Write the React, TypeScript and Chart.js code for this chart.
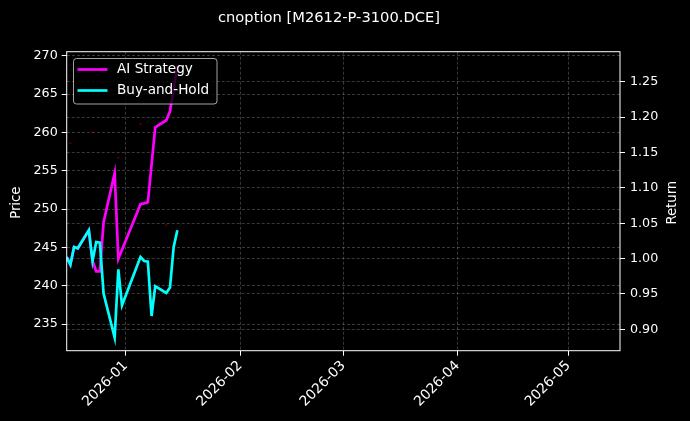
import React, { useEffect, useRef } from "react";
import { Chart, registerables } from "chart.js";

Chart.register(...registerables);

// ---- data ----
const chartTitle = "cnoption [M2612-P-3100.DCE]";
const dates = [
  "2025-12-16", "2025-12-17", "2025-12-18", "2025-12-19", "2025-12-22",
  "2025-12-23", "2025-12-24", "2025-12-25", "2025-12-26", "2025-12-29",
  "2025-12-30", "2025-12-31", "2026-01-05", "2026-01-06", "2026-01-07",
  "2026-01-08", "2026-01-09", "2026-01-12", "2026-01-13", "2026-01-14",
  "2026-01-15",
];
const aiStrategy = [
  1.002, 0.9915, 1.0164, 1.0146, 1.04, 0.9966, 0.982, 0.982, 1.0513, 1.1206,
  0.9997, 1.0124, 1.0768, 1.078, 1.0796, 1.1326, 1.1856, 1.1955, 1.2082, 1.24,
  1.273,
];
const buyAndHold = [
  1.002, 0.9915, 1.0164, 1.0146, 1.04, 0.9966, 1.0235, 1.0226, 0.9505, 0.8883,
  0.9849, 0.934, 1.0023, 0.9966, 0.9958, 0.9189, 0.9608, 0.9514, 0.959, 1.0164,
  1.04,
];
const priceDates = ["2025-12-17", "2025-12-23", "2025-12-30", "2026-01-05", "2026-01-12"];
const priceValues = [258.6, 260.0, 256.7, 261.1, 247.9];

const xStart = "2025-12-16";
const xEnd = "2026-05-15";
const xTickDates = ["2026-01-01", "2026-02-01", "2026-03-01", "2026-04-01", "2026-05-01"];
const xTickLabels = ["2026-01", "2026-02", "2026-03", "2026-04", "2026-05"];
const priceTicks = [235, 240, 245, 250, 255, 260, 265, 270];
const returnTicks = [0.9, 0.95, 1.0, 1.05, 1.1, 1.15, 1.2, 1.25];
const priceRange = [231.52, 270.52];
const returnRange = [0.8698, 1.2924];

const FONT = "'DejaVu Sans', sans-serif";
const ts = (s: string) => Date.parse(s + "T00:00:00Z");

const overlayPlugin = {
  id: "overlay",
  afterDatasetsDraw(chart: any) {
    const ctx = chart.ctx as CanvasRenderingContext2D;
    ctx.save();
    // legend box
    const x = 73.5, y = 58.5, w = 143.5, h = 45.5, r = 3;
    ctx.beginPath();
    ctx.moveTo(x + r, y);
    ctx.lineTo(x + w - r, y);
    ctx.arcTo(x + w, y, x + w, y + r, r);
    ctx.lineTo(x + w, y + h - r);
    ctx.arcTo(x + w, y + h, x + w - r, y + h, r);
    ctx.lineTo(x + r, y + h);
    ctx.arcTo(x, y + h, x, y + h - r, r);
    ctx.lineTo(x, y + r);
    ctx.arcTo(x, y, x + r, y, r);
    ctx.closePath();
    ctx.fillStyle = "rgba(0,0,0,0.8)";
    ctx.fill();
    ctx.strokeStyle = "rgba(204,204,204,0.8)";
    ctx.lineWidth = 1;
    ctx.stroke();
    const items = [
      { label: "AI Strategy", color: "#ff00ff", cy: 69.5 },
      { label: "Buy-and-Hold", color: "#00ffff", cy: 90.5 },
    ];
    ctx.font = `13.6px ${FONT}`;
    ctx.textBaseline = "middle";
    ctx.textAlign = "left";
    for (const it of items) {
      ctx.beginPath();
      ctx.moveTo(77.5, it.cy);
      ctx.lineTo(107.5, it.cy);
      ctx.strokeStyle = it.color;
      ctx.lineWidth = 2.7;
      ctx.stroke();
      ctx.fillStyle = "#ffffff";
      ctx.fillText(it.label, 117, it.cy);
    }
    ctx.restore();
  },
  afterDraw(chart: any) {
    const ctx = chart.ctx as CanvasRenderingContext2D;
    const a = chart.chartArea;
    ctx.save();
    // frame
    ctx.strokeStyle = "#ffffff";
    ctx.lineWidth = 1;
    ctx.strokeRect(a.left, a.top, a.right - a.left, a.bottom - a.top);
    // title
    ctx.fillStyle = "#ffffff";
    ctx.font = `14.7px ${FONT}`;
    ctx.textAlign = "center";
    ctx.textBaseline = "middle";
    ctx.fillText(chartTitle, 329, 18);
    // axis titles
    const midY = (a.top + a.bottom) / 2 + 1.5;
    ctx.font = `13.2px ${FONT}`;
    ctx.save();
    ctx.translate(17, midY);
    ctx.rotate(-Math.PI / 2);
    ctx.fillText("Price", 0, 0);
    ctx.restore();
    ctx.save();
    ctx.translate(673, midY);
    ctx.rotate(-Math.PI / 2);
    ctx.fillText("Return", 0, 0);
    ctx.restore();
    ctx.restore();
  },
};

const gridColor = "rgba(255,255,255,0.28)";

export default function App() {
  const canvasRef = useRef<HTMLCanvasElement | null>(null);

  useEffect(() => {
    document.body.style.background = "#000";
    const canvas = canvasRef.current;
    if (!canvas) return;
    const chart = new Chart(canvas, {
      type: "line",
      data: {
        datasets: [
          {
            label: "Buy-and-Hold",
            data: dates.map((d, i) => ({ x: ts(d), y: buyAndHold[i] })),
            borderColor: "#00ffff",
            borderWidth: 2.7,
            pointRadius: 0,
            tension: 0,
            yAxisID: "y1",
            order: 0,
          },
          {
            label: "AI Strategy",
            data: dates.map((d, i) => ({ x: ts(d), y: aiStrategy[i] })),
            borderColor: "#ff00ff",
            borderWidth: 2.7,
            pointRadius: 0,
            tension: 0,
            yAxisID: "y1",
            order: 1,
          },
          {
            label: "Price",
            data: priceDates.map((d, i) => ({ x: ts(d), y: priceValues[i] })),
            showLine: false,
            pointRadius: 1.2,
            pointBorderWidth: 0,
            pointBackgroundColor: "rgba(255,0,0,0.3)",
            borderColor: "rgba(255,0,0,0.3)",
            yAxisID: "y",
            order: 2,
          },
        ],
      },
      options: {
        animation: false,
        responsive: true,
        maintainAspectRatio: false,
        events: [],
        layout: { padding: { top: 51.7, left: 0, right: 0, bottom: 0 } },
        plugins: {
          legend: { display: false },
          title: { display: false },
          tooltip: { enabled: false },
        },
        scales: {
          x: {
            type: "linear",
            min: ts(xStart),
            max: ts(xEnd),
            afterBuildTicks: (s: any) => {
              s.ticks = xTickDates.map((d) => ({ value: ts(d) }));
            },
            afterFit: (s: any) => {
              s.height = 70.3;
            },
            ticks: {
              autoSkip: false,
              maxRotation: 45,
              minRotation: 45,
              color: "#ffffff",
              padding: 2,
              font: { family: FONT, size: 13.8 },
              callback: (_v: any, i: number) => xTickLabels[i],
            },
            grid: {
              color: gridColor,
              lineWidth: 0.8,
              tickColor: "#ffffff",
              tickLength: 5,
              tickWidth: 1,
              tickBorderDash: [],
            },
            border: { display: false, dash: [3, 2] },
          },
          y: {
            type: "linear",
            position: "left",
            min: priceRange[0],
            max: priceRange[1],
            afterBuildTicks: (s: any) => {
              s.ticks = priceTicks.map((v) => ({ value: v }));
            },
            afterFit: (s: any) => {
              s.width = 66.7;
            },
            ticks: {
              color: "#ffffff",
              padding: 4,
              font: { family: FONT, size: 12.7 },
              callback: (v: any) => String(v),
            },
            grid: {
              color: gridColor,
              lineWidth: 0.8,
              tickColor: "#ffffff",
              tickLength: 5,
              tickWidth: 1,
              tickBorderDash: [],
            },
            border: { display: false, dash: [3, 2] },
          },
          y1: {
            type: "linear",
            position: "right",
            min: returnRange[0],
            max: returnRange[1],
            afterBuildTicks: (s: any) => {
              s.ticks = returnTicks.map((v) => ({ value: v }));
            },
            afterFit: (s: any) => {
              s.width = 70;
            },
            ticks: {
              color: "#ffffff",
              padding: 5,
              font: { family: FONT, size: 12.7 },
              callback: (v: any) => Number(v).toFixed(2),
            },
            grid: {
              color: gridColor,
              lineWidth: 0.8,
              tickColor: "#ffffff",
              tickLength: 5,
              tickWidth: 1,
              tickBorderDash: [],
            },
            border: { display: false, dash: [3, 2] },
          },
        },
      },
      plugins: [overlayPlugin],
    } as any);
    return () => chart.destroy();
  }, []);

  return (
    <div
      style={{
        position: "absolute",
        left: 0,
        top: 0,
        width: 690,
        height: 421,
        background: "#000",
      }}
    >
      <canvas ref={canvasRef} />
    </div>
  );
}
